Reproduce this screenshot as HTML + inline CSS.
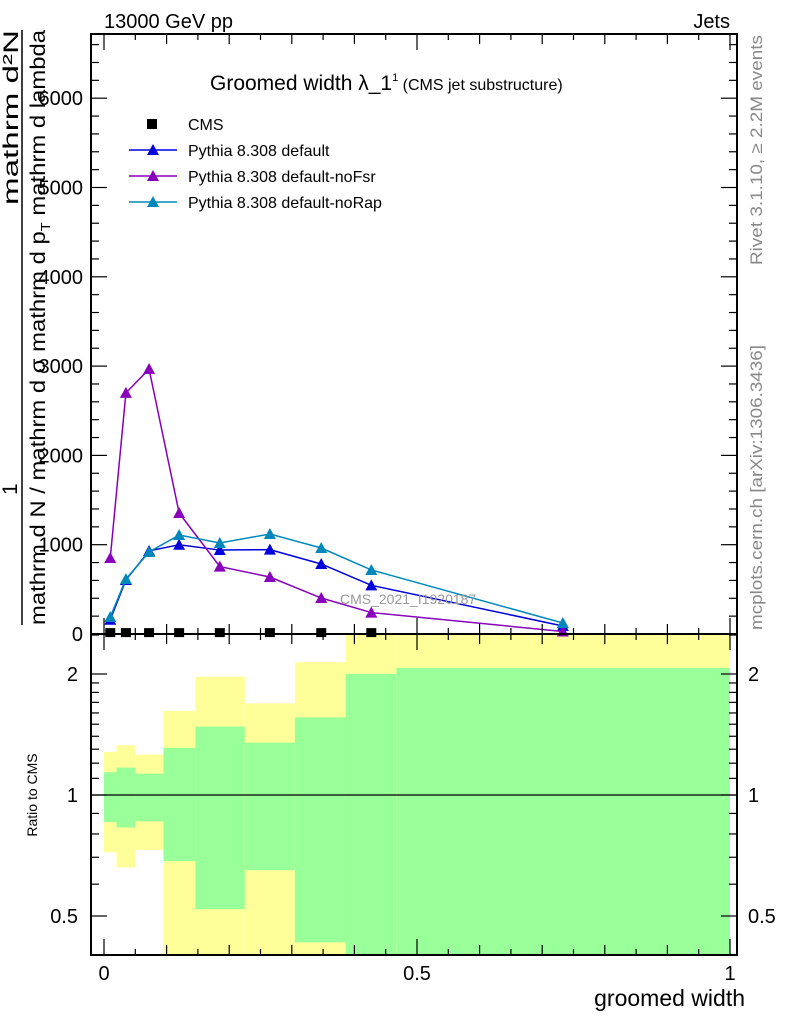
<!DOCTYPE html>
<html><head><meta charset="utf-8"><style>
body{margin:0;background:#fff;}
svg{font-family:"Liberation Sans",sans-serif;display:block}
</style></head><body>
<svg id="c" width="786" height="1024" xmlns="http://www.w3.org/2000/svg">
<g id="bands"></g>
<g id="marks"></g>
<g id="axes"></g>
<text x="104" y="28" font-size="20">13000 GeV pp</text>
<text x="730" y="28" font-size="20" text-anchor="end">Jets</text>
<text x="210" y="90" font-size="21">Groomed width λ_1<tspan font-size="11" dy="-9">1</tspan><tspan font-size="16" dy="9"> (CMS jet substructure)</tspan></text>
<text x="340" y="604" font-size="14" fill="#999">CMS_2021_I1920187</text>
<text transform="translate(762,265) rotate(-90)" font-size="17" fill="#888" textLength="230" lengthAdjust="spacingAndGlyphs">Rivet 3.1.10, ≥ 2.2M events</text>
<text transform="translate(762,630) rotate(-90)" font-size="17" fill="#888" textLength="285" lengthAdjust="spacingAndGlyphs">mcplots.cern.ch [arXiv:1306.3436]</text>
<g>
<line x1="22" y1="30" x2="22" y2="625" stroke="#000" stroke-width="1.5"/>
<text transform="translate(18,205) rotate(-90)" font-size="21" textLength="175" lengthAdjust="spacingAndGlyphs">mathrm d²N</text>
<text transform="translate(17,495) rotate(-90)" font-size="21">1</text>
<text transform="translate(45,625) rotate(-90)" font-size="21" textLength="595" lengthAdjust="spacingAndGlyphs">mathrm d N / mathrm d σ mathrm d p<tspan font-size="13" dy="5">T</tspan><tspan dy="-5"> mathrm d lambda</tspan></text>
</g>
<text transform="translate(37,795) rotate(-90)" font-size="14" text-anchor="middle">Ratio to CMS</text>
<text x="745" y="1006" font-size="23" text-anchor="end">groomed width</text>
<g id="legend"></g>
</svg>
<script>
const xs = [0.01,0.035,0.072,0.12,0.185,0.265,0.347,0.427,0.733];
const cmsX = [0.01,0.035,0.072,0.12,0.185,0.265,0.347,0.427];
const cmsY = [10,10,10,10,10,10,10,10];
const yDefault = [160,605,930,1000,940,945,784,545,90];
const yNoFsr = [851,2700,2967,1355,755,638,403,240,28];
const yNoRap = [190,615,918,1108,1019,1120,963,717,123];
const binEdges = [0,0.02,0.05,0.095,0.146,0.225,0.305,0.386,0.467,1.0];
const yellowHi = [1.28,1.33,1.26,1.62,1.97,1.69,2.14,3,3];
const greenHi = [1.14,1.17,1.13,1.31,1.48,1.35,1.56,2.0,2.07];
const greenLo = [0.857,0.83,0.86,0.685,0.52,0.65,0.43,0.3,0.3];
const yellowLo = [0.72,0.66,0.73,0.3,0.3,0.3,0.3,0.3,0.3];
const yTicks = [0,1000,2000,3000,4000,5000,6000];
const rTicks = [0.5,1,2];
const xTicks = [0,0.5,1];

const NS="http://www.w3.org/2000/svg";
const X0=91,X1=737,T=34,M=634,B=955;
const sx=v=>104+626*v;
const sy=v=>634-v*0.0893;
const srr=r=>Math.max(M,Math.min(B,795-121*Math.log2(r)));
function el(p,tag,a){const e=document.createElementNS(NS,tag);for(const k in a)e.setAttribute(k,a[k]);p.appendChild(e);return e;}
const bands=document.getElementById('bands'),marks=document.getElementById('marks'),axes=document.getElementById('axes'),leg=document.getElementById('legend');

for(let i=0;i<binEdges.length-1;i++){
  const x1=sx(binEdges[i]),x2=sx(binEdges[i+1]);
  const y=el(bands,'rect',{x:x1,y:srr(yellowHi[i]),width:x2-x1,height:srr(yellowLo[i])-srr(yellowHi[i]),fill:'#ffff99'});
  
  
  const g=el(bands,'rect',{x:x1,y:srr(greenHi[i]),width:x2-x1,height:srr(greenLo[i])-srr(greenHi[i]),fill:'#99ff99'});
  
  
}
el(bands,'line',{x1:X0,x2:X1,y1:795,y2:795,stroke:'#000','stroke-width':1.2});

function tri(p,x,y,c){return el(p,'path',{d:`M${x-6},${y+5}L${x+6},${y+5}L${x},${y-6}Z`,fill:c});}
const series=[[yDefault,'#0000dd','series-default'],[yNoFsr,'#8800bb','series-nofsr'],[yNoRap,'#0088bb','series-norap']];
series.forEach(([ys,c,n])=>{
  const pts=ys.map((v,i)=>sx(xs[i])+','+sy(v)).join(' ');
  const l=el(marks,'polyline',{points:pts,fill:'none',stroke:c,'stroke-width':1.5});
  
  
  ys.forEach((v,i)=>{const t=tri(marks,sx(xs[i]),sy(v),c);
    
    });
});
cmsX.forEach((v,i)=>{const r=el(marks,'rect',{x:sx(v)-5,y:sy(cmsY[i])-5,width:10,height:9,fill:'#000'});
  
  });

el(axes,'rect',{x:X0,y:T,width:X1-X0,height:M-T,fill:'none',stroke:'#000','stroke-width':2});
el(axes,'rect',{x:X0,y:M,width:X1-X0,height:B-M,fill:'none',stroke:'#000','stroke-width':2});
for(let k=0;k<=20;k++){const v=k*0.05,x=sx(v),len=(k%10==0)?16:(k%2==0?10:6);
  [[M,-1],[T,1],[B,-1]].forEach(([y,d])=>el(axes,'line',{x1:x,x2:x,y1:y,y2:y+d*len,stroke:'#000','stroke-width':1.2}));
  el(axes,'line',{x1:x,x2:x,y1:M,y2:M+len,stroke:'#000','stroke-width':1.2});}
xTicks.forEach(v=>{const t=el(axes,'text',{x:sx(v),y:980,'font-size':20,'text-anchor':'middle'});t.textContent=String(v);
  
  });
for(let v=0;v<=7000;v+=200){const y=sy(v);if(y<T)break;const len=v%1000==0?16:8;
  el(axes,'line',{x1:X0,x2:X0+len,y1:y,y2:y,stroke:'#000','stroke-width':1.2});
  el(axes,'line',{x1:X1,x2:X1-len,y1:y,y2:y,stroke:'#000','stroke-width':1.2});}
yTicks.forEach(v=>{const t=el(axes,'text',{x:83,y:sy(v)+7,'font-size':20,'text-anchor':'end'});t.textContent=String(v);
  
  });
const rminor=[0.4,0.5,0.6,0.7,0.8,0.9,1,1.1,1.2,1.3,1.4,1.5,1.6,1.7,1.8,1.9,2,2.5];
rminor.forEach(r=>{const y=795-121*Math.log2(r);if(y<M||y>B)return;const len=rTicks.includes(r)?16:8;
  el(axes,'line',{x1:X0,x2:X0+len,y1:y,y2:y,stroke:'#000','stroke-width':1.2});
  el(axes,'line',{x1:X1,x2:X1-len,y1:y,y2:y,stroke:'#000','stroke-width':1.2});});
rTicks.forEach(r=>{const y=795-121*Math.log2(r)+7;
  const t=el(axes,'text',{x:78,y:y,'font-size':20,'text-anchor':'end'});t.textContent=String(r);
  
  
  const t2=el(axes,'text',{x:748,y:y,'font-size':20});t2.textContent=String(r);
  
  });

const legNames=['CMS','Pythia 8.308 default','Pythia 8.308 default-noFsr','Pythia 8.308 default-noRap'];
const legCols=['#000','#0000dd','#8800bb','#0088bb'];
legNames.forEach((n,i)=>{const y=124+26*i;
  const g=el(leg,'g',{});
  
  
  if(i==0)el(g,'rect',{x:147,y:y-5,width:10,height:10,fill:'#000'});
  else{el(g,'line',{x1:129,x2:177,y1:y,y2:y,stroke:legCols[i],'stroke-width':1.5});tri(g,153,y,legCols[i]);}
  const t=el(g,'text',{x:188,y:y+6,'font-size':16});t.textContent=n;});
</script>
</body></html>
